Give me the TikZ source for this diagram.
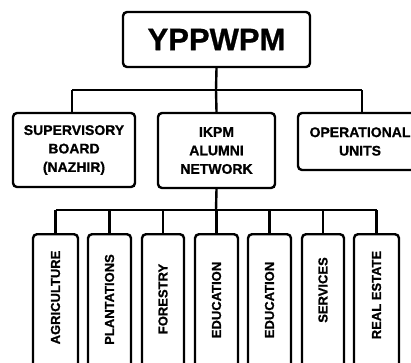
\documentclass[tikz,border=0pt]{standalone}
\usepackage{fontspec}
\setmainfont{Liberation Sans}[BoldFeatures={FakeBold=0.8}]
\begin{document}
\begin{tikzpicture}[x=1pt,y=-1pt,
  box/.style={draw=black, line width=2.4pt, rounded corners=4pt, fill=white, inner sep=0pt},
  conn/.style={draw=black, line width=2.4pt},
  midtxt/.style={font=\bfseries\fontsize{14}{18.5}\selectfont, align=center},
  bottxt/.style={font=\bfseries\fontsize{13}{15}\selectfont, rotate=90, inner sep=0pt}]
\useasboundingbox (0,0) rectangle (411,362);
\fill[white] (0,0) rectangle (411,362);
% top
\node[box, minimum width=187pt, minimum height=55pt, font=\bfseries\fontsize{31}{36}\selectfont] (top) at (216.5,39.5) {YPPWPM};
% middle
\node[box, minimum width=122pt, minimum height=74pt, midtxt] (sup) at (74,150) {SUPERVISORY\\BOARD\\(NAZHIR)};
\node[box, minimum width=117pt, minimum height=75pt, midtxt] (ikpm) at (216.5,150.5) {IKPM\\ALUMNI\\NETWORK};
\node[box, minimum width=124pt, minimum height=57pt, midtxt] (ops) at (360,141.5) {OPERATIONAL\\UNITS};
\coordinate (j1) at (216,90);
\draw[conn] (top.south) -- (j1);
\draw[conn] (72,90) coordinate (l1) -- (362,90) coordinate (r1);
\draw[conn] (l1) -- (l1 |- sup.north);
\draw[conn] (r1) -- (r1 |- ops.north);
\draw[conn] (j1) -- (ikpm.north);
% bottom
\coordinate (j2) at (216,210);
\draw[conn] (ikpm.south) -- (j2);
\foreach \n/\x/\w/\t/\c in {b1/55.5/45/AGRICULTURE/297.5, b2/109.5/43/PLANTATIONS/299.5, b3/163/42/FORESTRY/299, b4/216.5/43/EDUCATION/300, b5/269.5/43/EDUCATION/300, b6/323/42/SERVICES/290, b7/376.5/45/REAL ESTATE/295}{
  \node[box, anchor=north, minimum width=\w pt, minimum height=150pt] (\n) at (\x,233) {};
  \node[bottxt] (\n t) at (\x,\c) {\t};
  \draw[conn] (\n.north) -- (\x,210);
}
\draw[conn] (b1.north |- j2) -- (b7.north |- j2);
\end{tikzpicture}
\end{document}
